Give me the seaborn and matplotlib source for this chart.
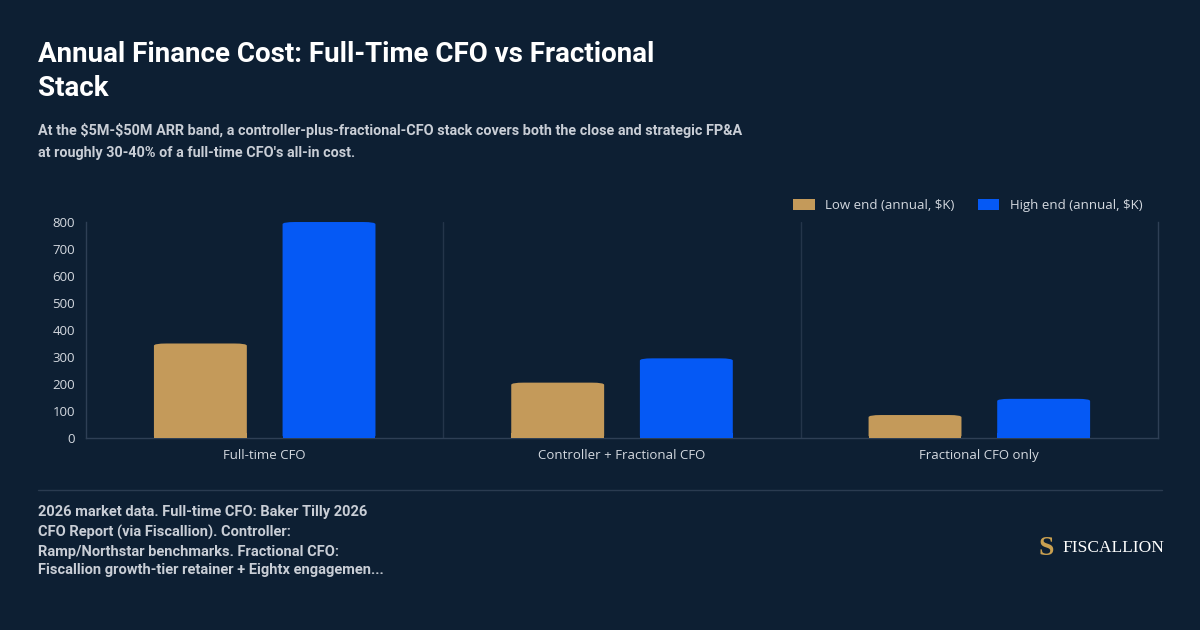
import matplotlib
matplotlib.use("Agg")
import matplotlib.pyplot as plt
import seaborn as sns
import pandas as pd
from matplotlib.patches import FancyBboxPatch, Patch
from matplotlib.lines import Line2D

categories = ["Full-time CFO", "Controller + Fractional CFO", "Fractional CFO only"]
low_end = [350, 205, 85]
high_end = [800, 295, 145]
series = ["Low end (annual, $K)", "High end (annual, $K)"]
yticks = [0, 100, 200, 300, 400, 500, 600, 700, 800]

BG = "#0d1f33"
GOLD = "#c49a5a"
BLUE = "#0559f5"

df = pd.DataFrame({
    "cat": categories * 2,
    "val": low_end + high_end,
    "series": [series[0]] * 3 + [series[1]] * 3,
})

sns.set_theme(style="dark")
plt.rcParams["font.family"] = ["Open Sans", "DejaVu Sans"]
plt.rcParams["text.parse_math"] = False

fig = plt.figure(figsize=(12, 6.3), dpi=100, facecolor=BG)
ax = fig.add_axes([0.0717, 0.3048, 0.8933, 0.3428])
ax.set_facecolor(BG)
sns.barplot(data=df, x="cat", y="val", hue="series", order=categories,
            hue_order=series, palette=[GOLD, BLUE], width=0.72,
            legend=False, ax=ax, saturation=1)

bars = list(ax.patches)
for p in bars:
    cx = p.get_x() + p.get_width() / 2
    h = p.get_height()
    w = 0.26
    col = p.get_facecolor()
    p.remove()
    rad = 0.035
    ax.add_patch(FancyBboxPatch((cx - w / 2, 0), w, h,
                                boxstyle=f"round,pad=0,rounding_size={rad}",
                                mutation_aspect=230, facecolor=col, edgecolor="none",
                                zorder=3))
    ax.add_patch(plt.Rectangle((cx - w / 2, 0), w, min(h, 20), facecolor=col,
                               edgecolor="none", zorder=3))

ax.set_xlim(-0.5, 2.5)
ax.set_ylim(0, 800)
ax.set_yticks(yticks)
ax.set_yticklabels([str(t) for t in yticks], color="#d4d9e0", fontsize=9.5)
ax.set_xticks(range(3))
ax.set_xticklabels(categories, color="#d4d9e0", fontsize=9.5)
ax.tick_params(axis="both", length=0, pad=8)
ax.set_xlabel(""); ax.set_ylabel("")
ax.grid(False)
for x in [0.5, 1.5]:
    ax.axvline(x, color="#24354a", lw=1, zorder=1)
ax.spines["top"].set_visible(False)
for s in ["left", "bottom", "right"]:
    ax.spines[s].set_color("#2e3f55")
    ax.spines[s].set_linewidth(1)

handles = [Patch(facecolor=GOLD, edgecolor="none"), Patch(facecolor=BLUE, edgecolor="none")]
fig.legend(handles, series, loc="center right", bbox_to_anchor=(0.962, 0.674),
           ncol=2, frameon=False, fontsize=9.5, labelcolor="#d4d9e0",
           handlelength=1.6, handleheight=0.9, columnspacing=1.8)

fig.text(0.032, 0.935, "Annual Finance Cost: Full-Time CFO vs Fractional\nStack",
         color="white", fontsize=20, fontweight="bold", family=["Roboto", "DejaVu Sans"],
         va="top", linespacing=1.35)
fig.text(0.032, 0.805, "At the $5M-$50M ARR band, a controller-plus-fractional-CFO stack covers both the close and strategic FP&A\nat roughly 30-40% of a full-time CFO's all-in cost.",
         color="#c9ced6", fontsize=10.4, fontweight="bold", family=["Roboto", "DejaVu Sans"],
         va="top", linespacing=1.75)
fig.add_artist(Line2D([0.032, 0.968], [0.222, 0.222], color="#2a3b50", lw=1))
fig.text(0.032, 0.198, "2026 market data. Full-time CFO: Baker Tilly 2026\nCFO Report (via Fiscallion). Controller:\nRamp/Northstar benchmarks. Fractional CFO:\nFiscallion growth-tier retainer + Eightx engagemen...",
         color="#c9ced6", fontsize=10.5, fontweight="bold", family=["Roboto", "DejaVu Sans"],
         va="top", linespacing=1.45)
fig.text(0.872, 0.13, "S", color="#c9a050", fontsize=20, fontweight="bold",
         family=["Liberation Serif"], va="center", ha="center")
fig.text(0.885, 0.13, "FISCALLION", color="white", fontsize=12.5,
         family=["Liberation Serif"], va="center", ha="left")

fig.savefig("out.png", dpi=100, facecolor=BG)
